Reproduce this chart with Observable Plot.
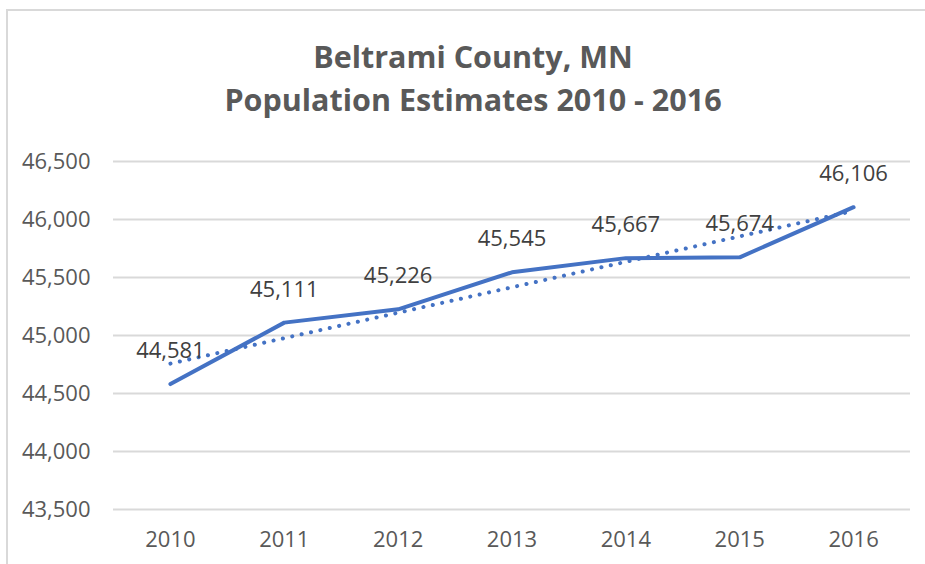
<!DOCTYPE html>
<html>
<head>
<meta charset="utf-8">
<script src="https://cdn.jsdelivr.net/npm/d3@7"></script>
<script src="https://cdn.jsdelivr.net/npm/@observablehq/plot@0.6"></script>
<style>
  html, body { margin: 0; padding: 0; background: #fff; }
  #wrap { position: relative; width: 925px; height: 564px; overflow: hidden; background: #fff; }
  #frame { position: absolute; left: 6px; top: 9px; width: 1000px; height: 700px; border: 2px solid #d9d9d9; box-sizing: border-box; }
  #title { position: absolute; left: 0; top: 0; width: 925px; height: 130px; text-align: center;
           font-family: "Open Sans", sans-serif; font-weight: 700; font-size: 30.5px; color: #595959; }
  #title div { position: absolute; left: 0; width: 946px; text-align: center; }
  #chart { position: absolute; left: 0; top: 130px; }
</style>
</head>
<body>
<div id="wrap">
  <div id="frame"></div>
  <div id="title">
    <div style="top:35px">Beltrami County, MN</div>
    <div style="top:78px">Population Estimates 2010 - 2016</div>
  </div>
  <div id="chart"></div>
</div>
<script>
const years = [2010, 2011, 2012, 2013, 2014, 2015, 2016];
const population = [44581, 45111, 45226, 45545, 45667, 45674, 46106];
const yTicks = [43500, 44000, 44500, 45000, 45500, 46000, 46500];

const data = years.map((year, i) => ({year, population: population[i]}));

const chart = Plot.plot({
  width: 925,
  height: 434,
  marginTop: 31,
  marginBottom: 55,
  marginLeft: 113,
  marginRight: 15,
  style: {fontFamily: "Open Sans, sans-serif", fontSize: "22px", color: "#595959", background: "transparent"},
  x: {domain: [2009.5, 2016.5], label: null},
  y: {domain: [43500, 46500], label: null},
  marks: [
    Plot.gridY(yTicks, {stroke: "#d9d9d9", strokeOpacity: 1, strokeWidth: 2}),
    Plot.axisY(yTicks, {tickSize: 0, tickPadding: 23, tickFormat: d3.format(","), fill: "#595959", fontSize: 22}),
    Plot.axisX(years, {tickSize: 0, tickPadding: 22, tickFormat: d => String(d), fill: "#595959", fontSize: 22}),
    Plot.linearRegressionY(data, {x: "year", y: "population", ci: 0, stroke: "#4472C4", strokeWidth: 4, strokeDasharray: "0.1 9.5", strokeLinecap: "round"}),
    Plot.line(data, {x: "year", y: "population", stroke: "#4472C4", strokeWidth: 4}),
    Plot.text(data, {x: "year", y: "population", text: d => d3.format(",")(d.population), dy: -33, fill: "#404040", fontSize: 22})
  ]
});
document.getElementById("chart").appendChild(chart);
</script>
</body>
</html>
